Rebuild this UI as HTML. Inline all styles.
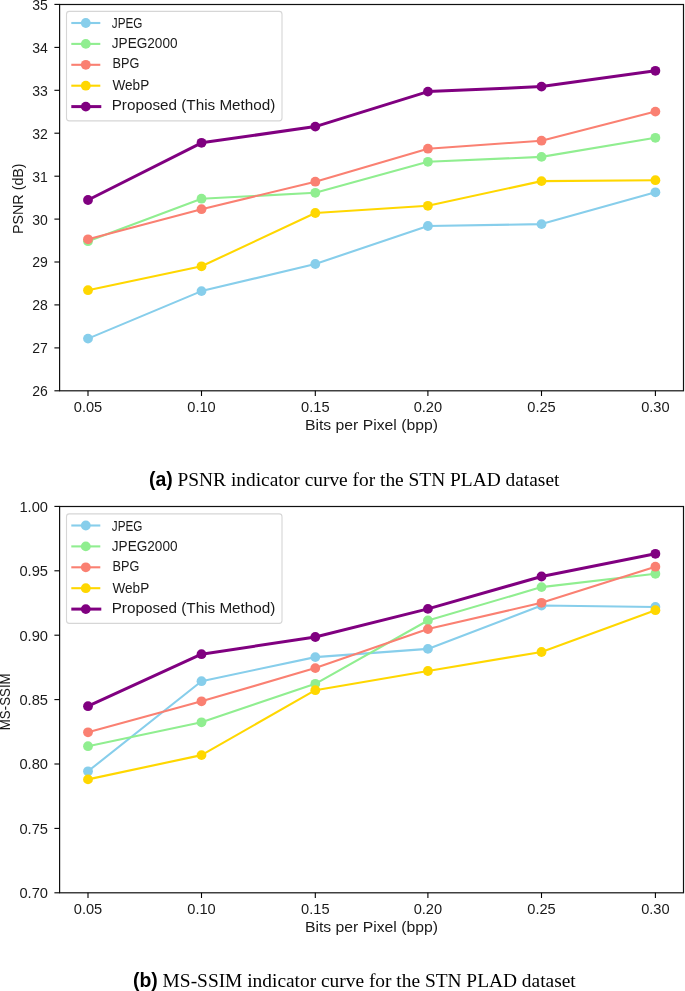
<!DOCTYPE html>
<html><head><meta charset="utf-8"><style>
html,body{margin:0;padding:0;background:#fff;}
body{width:685px;height:991px;overflow:hidden;}
svg{display:block;filter:blur(0.35px);}
.t{font-family:"Liberation Sans",sans-serif;font-size:14.1px;fill:#1a1a1a;}
.cap{font-family:"Liberation Serif",serif;font-size:19.4px;fill:#000;}
.capb{font-family:"Liberation Sans",sans-serif;font-weight:bold;}
</style></head><body>
<svg width="685" height="991" viewBox="0 0 685 991">
<polyline points="88.0,338.6 201.5,291.1 315.3,264.0 427.9,226.0 541.5,224.1 655.4,192.3" fill="none" stroke="#87ceeb" stroke-width="2.1" stroke-linejoin="round" stroke-linecap="round"/>
<circle cx="88.0" cy="338.6" r="4.9" fill="#87ceeb"/>
<circle cx="201.5" cy="291.1" r="4.9" fill="#87ceeb"/>
<circle cx="315.3" cy="264.0" r="4.9" fill="#87ceeb"/>
<circle cx="427.9" cy="226.0" r="4.9" fill="#87ceeb"/>
<circle cx="541.5" cy="224.1" r="4.9" fill="#87ceeb"/>
<circle cx="655.4" cy="192.3" r="4.9" fill="#87ceeb"/>
<polyline points="88.0,241.2 201.5,198.7 315.3,192.8 427.9,161.8 541.5,156.9 655.4,137.8" fill="none" stroke="#90ee90" stroke-width="2.1" stroke-linejoin="round" stroke-linecap="round"/>
<circle cx="88.0" cy="241.2" r="4.9" fill="#90ee90"/>
<circle cx="201.5" cy="198.7" r="4.9" fill="#90ee90"/>
<circle cx="315.3" cy="192.8" r="4.9" fill="#90ee90"/>
<circle cx="427.9" cy="161.8" r="4.9" fill="#90ee90"/>
<circle cx="541.5" cy="156.9" r="4.9" fill="#90ee90"/>
<circle cx="655.4" cy="137.8" r="4.9" fill="#90ee90"/>
<polyline points="88.0,239.3 201.5,209.2 315.3,181.7 427.9,148.7 541.5,140.7 655.4,111.6" fill="none" stroke="#fa8072" stroke-width="2.1" stroke-linejoin="round" stroke-linecap="round"/>
<circle cx="88.0" cy="239.3" r="4.9" fill="#fa8072"/>
<circle cx="201.5" cy="209.2" r="4.9" fill="#fa8072"/>
<circle cx="315.3" cy="181.7" r="4.9" fill="#fa8072"/>
<circle cx="427.9" cy="148.7" r="4.9" fill="#fa8072"/>
<circle cx="541.5" cy="140.7" r="4.9" fill="#fa8072"/>
<circle cx="655.4" cy="111.6" r="4.9" fill="#fa8072"/>
<polyline points="88.0,290.2 201.5,266.3 315.3,213.0 427.9,205.8 541.5,181.1 655.4,180.2" fill="none" stroke="#ffd700" stroke-width="2.1" stroke-linejoin="round" stroke-linecap="round"/>
<circle cx="88.0" cy="290.2" r="4.9" fill="#ffd700"/>
<circle cx="201.5" cy="266.3" r="4.9" fill="#ffd700"/>
<circle cx="315.3" cy="213.0" r="4.9" fill="#ffd700"/>
<circle cx="427.9" cy="205.8" r="4.9" fill="#ffd700"/>
<circle cx="541.5" cy="181.1" r="4.9" fill="#ffd700"/>
<circle cx="655.4" cy="180.2" r="4.9" fill="#ffd700"/>
<polyline points="88.0,200.0 201.5,142.8 315.3,126.6 427.9,91.6 541.5,86.6 655.4,70.8" fill="none" stroke="#800080" stroke-width="3.0" stroke-linejoin="round" stroke-linecap="round"/>
<circle cx="88.0" cy="200.0" r="4.9" fill="#800080"/>
<circle cx="201.5" cy="142.8" r="4.9" fill="#800080"/>
<circle cx="315.3" cy="126.6" r="4.9" fill="#800080"/>
<circle cx="427.9" cy="91.6" r="4.9" fill="#800080"/>
<circle cx="541.5" cy="86.6" r="4.9" fill="#800080"/>
<circle cx="655.4" cy="70.8" r="4.9" fill="#800080"/>
<rect x="66.5" y="11.4" width="215.5" height="109.5" rx="2.8" fill="#fff" fill-opacity="0.8" stroke="#d6d6d6" stroke-width="1.1"/>
<line x1="71.3" y1="23.0" x2="100.3" y2="23.0" stroke="#87ceeb" stroke-width="2.1"/>
<circle cx="85.8" cy="23.0" r="4.9" fill="#87ceeb"/>
<text x="111.8" y="28.1" class="t" textLength="30.7" lengthAdjust="spacingAndGlyphs">JPEG</text>
<line x1="71.3" y1="43.9" x2="100.3" y2="43.9" stroke="#90ee90" stroke-width="2.1"/>
<circle cx="85.8" cy="43.9" r="4.9" fill="#90ee90"/>
<text x="111.8" y="48.0" class="t" textLength="65.7" lengthAdjust="spacingAndGlyphs">JPEG2000</text>
<line x1="71.3" y1="64.8" x2="100.3" y2="64.8" stroke="#fa8072" stroke-width="2.1"/>
<circle cx="85.8" cy="64.8" r="4.9" fill="#fa8072"/>
<text x="112.5" y="68.4" class="t" textLength="26.8" lengthAdjust="spacingAndGlyphs">BPG</text>
<line x1="71.3" y1="85.7" x2="100.3" y2="85.7" stroke="#ffd700" stroke-width="2.1"/>
<circle cx="85.8" cy="85.7" r="4.9" fill="#ffd700"/>
<text x="112.5" y="90.0" class="t" textLength="36.7" lengthAdjust="spacingAndGlyphs">WebP</text>
<line x1="71.3" y1="106.6" x2="101.3" y2="106.6" stroke="#800080" stroke-width="3.0"/>
<circle cx="85.8" cy="106.6" r="4.9" fill="#800080"/>
<text x="111.7" y="110.4" class="t" textLength="163.7" lengthAdjust="spacingAndGlyphs">Proposed (This Method)</text>
<rect x="59.6" y="4.5" width="623.9" height="386.3" fill="none" stroke="#111" stroke-width="1.2"/>
<line x1="88.0" y1="390.8" x2="88.0" y2="396.0" stroke="#000" stroke-width="1.1"/>
<text x="88.0" y="411.8" class="t" text-anchor="middle" textLength="28.5" lengthAdjust="spacingAndGlyphs">0.05</text>
<line x1="201.5" y1="390.8" x2="201.5" y2="396.0" stroke="#000" stroke-width="1.1"/>
<text x="201.5" y="411.8" class="t" text-anchor="middle" textLength="28.5" lengthAdjust="spacingAndGlyphs">0.10</text>
<line x1="315.3" y1="390.8" x2="315.3" y2="396.0" stroke="#000" stroke-width="1.1"/>
<text x="315.3" y="411.8" class="t" text-anchor="middle" textLength="28.5" lengthAdjust="spacingAndGlyphs">0.15</text>
<line x1="427.9" y1="390.8" x2="427.9" y2="396.0" stroke="#000" stroke-width="1.1"/>
<text x="427.9" y="411.8" class="t" text-anchor="middle" textLength="28.5" lengthAdjust="spacingAndGlyphs">0.20</text>
<line x1="541.5" y1="390.8" x2="541.5" y2="396.0" stroke="#000" stroke-width="1.1"/>
<text x="541.5" y="411.8" class="t" text-anchor="middle" textLength="28.5" lengthAdjust="spacingAndGlyphs">0.25</text>
<line x1="655.4" y1="390.8" x2="655.4" y2="396.0" stroke="#000" stroke-width="1.1"/>
<text x="655.4" y="411.8" class="t" text-anchor="middle" textLength="28.5" lengthAdjust="spacingAndGlyphs">0.30</text>
<line x1="54.4" y1="390.8" x2="59.6" y2="390.8" stroke="#000" stroke-width="1.1"/>
<text x="47.8" y="396.2" class="t" text-anchor="end" textLength="15.6" lengthAdjust="spacingAndGlyphs">26</text>
<line x1="54.4" y1="347.9" x2="59.6" y2="347.9" stroke="#000" stroke-width="1.1"/>
<text x="47.8" y="353.3" class="t" text-anchor="end" textLength="15.6" lengthAdjust="spacingAndGlyphs">27</text>
<line x1="54.4" y1="304.9" x2="59.6" y2="304.9" stroke="#000" stroke-width="1.1"/>
<text x="47.8" y="310.3" class="t" text-anchor="end" textLength="15.6" lengthAdjust="spacingAndGlyphs">28</text>
<line x1="54.4" y1="262.0" x2="59.6" y2="262.0" stroke="#000" stroke-width="1.1"/>
<text x="47.8" y="267.4" class="t" text-anchor="end" textLength="15.6" lengthAdjust="spacingAndGlyphs">29</text>
<line x1="54.4" y1="219.1" x2="59.6" y2="219.1" stroke="#000" stroke-width="1.1"/>
<text x="47.8" y="224.5" class="t" text-anchor="end" textLength="15.6" lengthAdjust="spacingAndGlyphs">30</text>
<line x1="54.4" y1="176.2" x2="59.6" y2="176.2" stroke="#000" stroke-width="1.1"/>
<text x="47.8" y="181.6" class="t" text-anchor="end" textLength="15.6" lengthAdjust="spacingAndGlyphs">31</text>
<line x1="54.4" y1="133.2" x2="59.6" y2="133.2" stroke="#000" stroke-width="1.1"/>
<text x="47.8" y="138.6" class="t" text-anchor="end" textLength="15.6" lengthAdjust="spacingAndGlyphs">32</text>
<line x1="54.4" y1="90.3" x2="59.6" y2="90.3" stroke="#000" stroke-width="1.1"/>
<text x="47.8" y="95.7" class="t" text-anchor="end" textLength="15.6" lengthAdjust="spacingAndGlyphs">33</text>
<line x1="54.4" y1="47.4" x2="59.6" y2="47.4" stroke="#000" stroke-width="1.1"/>
<text x="47.8" y="52.8" class="t" text-anchor="end" textLength="15.6" lengthAdjust="spacingAndGlyphs">34</text>
<line x1="54.4" y1="4.4" x2="59.6" y2="4.4" stroke="#000" stroke-width="1.1"/>
<text x="47.8" y="9.8" class="t" text-anchor="end" textLength="15.6" lengthAdjust="spacingAndGlyphs">35</text>
<text x="371.4" y="430.0" class="t" text-anchor="middle" textLength="133" lengthAdjust="spacingAndGlyphs">Bits per Pixel (bpp)</text>
<text transform="translate(23.0,198.7) rotate(-90)" x="0" y="0" class="t" text-anchor="middle" textLength="70.6" lengthAdjust="spacingAndGlyphs">PSNR (dB)</text>
<polyline points="88.0,771.3 201.5,681.2 315.3,657.1 427.9,648.9 541.5,605.5 655.4,607.0" fill="none" stroke="#87ceeb" stroke-width="2.1" stroke-linejoin="round" stroke-linecap="round"/>
<circle cx="88.0" cy="771.3" r="4.9" fill="#87ceeb"/>
<circle cx="201.5" cy="681.2" r="4.9" fill="#87ceeb"/>
<circle cx="315.3" cy="657.1" r="4.9" fill="#87ceeb"/>
<circle cx="427.9" cy="648.9" r="4.9" fill="#87ceeb"/>
<circle cx="541.5" cy="605.5" r="4.9" fill="#87ceeb"/>
<circle cx="655.4" cy="607.0" r="4.9" fill="#87ceeb"/>
<polyline points="88.0,746.2 201.5,722.3 315.3,683.8 427.9,620.5 541.5,587.1 655.4,573.8" fill="none" stroke="#90ee90" stroke-width="2.1" stroke-linejoin="round" stroke-linecap="round"/>
<circle cx="88.0" cy="746.2" r="4.9" fill="#90ee90"/>
<circle cx="201.5" cy="722.3" r="4.9" fill="#90ee90"/>
<circle cx="315.3" cy="683.8" r="4.9" fill="#90ee90"/>
<circle cx="427.9" cy="620.5" r="4.9" fill="#90ee90"/>
<circle cx="541.5" cy="587.1" r="4.9" fill="#90ee90"/>
<circle cx="655.4" cy="573.8" r="4.9" fill="#90ee90"/>
<polyline points="88.0,732.3 201.5,701.3 315.3,668.1 427.9,629.1 541.5,602.8 655.4,566.7" fill="none" stroke="#fa8072" stroke-width="2.1" stroke-linejoin="round" stroke-linecap="round"/>
<circle cx="88.0" cy="732.3" r="4.9" fill="#fa8072"/>
<circle cx="201.5" cy="701.3" r="4.9" fill="#fa8072"/>
<circle cx="315.3" cy="668.1" r="4.9" fill="#fa8072"/>
<circle cx="427.9" cy="629.1" r="4.9" fill="#fa8072"/>
<circle cx="541.5" cy="602.8" r="4.9" fill="#fa8072"/>
<circle cx="655.4" cy="566.7" r="4.9" fill="#fa8072"/>
<polyline points="88.0,779.4 201.5,755.1 315.3,690.2 427.9,671.0 541.5,652.0 655.4,610.2" fill="none" stroke="#ffd700" stroke-width="2.1" stroke-linejoin="round" stroke-linecap="round"/>
<circle cx="88.0" cy="779.4" r="4.9" fill="#ffd700"/>
<circle cx="201.5" cy="755.1" r="4.9" fill="#ffd700"/>
<circle cx="315.3" cy="690.2" r="4.9" fill="#ffd700"/>
<circle cx="427.9" cy="671.0" r="4.9" fill="#ffd700"/>
<circle cx="541.5" cy="652.0" r="4.9" fill="#ffd700"/>
<circle cx="655.4" cy="610.2" r="4.9" fill="#ffd700"/>
<polyline points="88.0,706.2 201.5,654.2 315.3,637.0 427.9,608.9 541.5,576.5 655.4,553.8" fill="none" stroke="#800080" stroke-width="3.0" stroke-linejoin="round" stroke-linecap="round"/>
<circle cx="88.0" cy="706.2" r="4.9" fill="#800080"/>
<circle cx="201.5" cy="654.2" r="4.9" fill="#800080"/>
<circle cx="315.3" cy="637.0" r="4.9" fill="#800080"/>
<circle cx="427.9" cy="608.9" r="4.9" fill="#800080"/>
<circle cx="541.5" cy="576.5" r="4.9" fill="#800080"/>
<circle cx="655.4" cy="553.8" r="4.9" fill="#800080"/>
<rect x="66.5" y="513.9" width="215.5" height="109.5" rx="2.8" fill="#fff" fill-opacity="0.8" stroke="#d6d6d6" stroke-width="1.1"/>
<line x1="71.3" y1="525.5" x2="100.3" y2="525.5" stroke="#87ceeb" stroke-width="2.1"/>
<circle cx="85.8" cy="525.5" r="4.9" fill="#87ceeb"/>
<text x="111.8" y="530.6" class="t" textLength="30.7" lengthAdjust="spacingAndGlyphs">JPEG</text>
<line x1="71.3" y1="546.4" x2="100.3" y2="546.4" stroke="#90ee90" stroke-width="2.1"/>
<circle cx="85.8" cy="546.4" r="4.9" fill="#90ee90"/>
<text x="111.8" y="550.5" class="t" textLength="65.7" lengthAdjust="spacingAndGlyphs">JPEG2000</text>
<line x1="71.3" y1="567.3" x2="100.3" y2="567.3" stroke="#fa8072" stroke-width="2.1"/>
<circle cx="85.8" cy="567.3" r="4.9" fill="#fa8072"/>
<text x="112.5" y="570.9" class="t" textLength="26.8" lengthAdjust="spacingAndGlyphs">BPG</text>
<line x1="71.3" y1="588.2" x2="100.3" y2="588.2" stroke="#ffd700" stroke-width="2.1"/>
<circle cx="85.8" cy="588.2" r="4.9" fill="#ffd700"/>
<text x="112.5" y="592.5" class="t" textLength="36.7" lengthAdjust="spacingAndGlyphs">WebP</text>
<line x1="71.3" y1="609.1" x2="101.3" y2="609.1" stroke="#800080" stroke-width="3.0"/>
<circle cx="85.8" cy="609.1" r="4.9" fill="#800080"/>
<text x="111.7" y="612.9" class="t" textLength="163.7" lengthAdjust="spacingAndGlyphs">Proposed (This Method)</text>
<rect x="59.6" y="506.5" width="623.9" height="386.29999999999995" fill="none" stroke="#111" stroke-width="1.2"/>
<line x1="88.0" y1="892.8" x2="88.0" y2="898.0" stroke="#000" stroke-width="1.1"/>
<text x="88.0" y="913.8" class="t" text-anchor="middle" textLength="28.5" lengthAdjust="spacingAndGlyphs">0.05</text>
<line x1="201.5" y1="892.8" x2="201.5" y2="898.0" stroke="#000" stroke-width="1.1"/>
<text x="201.5" y="913.8" class="t" text-anchor="middle" textLength="28.5" lengthAdjust="spacingAndGlyphs">0.10</text>
<line x1="315.3" y1="892.8" x2="315.3" y2="898.0" stroke="#000" stroke-width="1.1"/>
<text x="315.3" y="913.8" class="t" text-anchor="middle" textLength="28.5" lengthAdjust="spacingAndGlyphs">0.15</text>
<line x1="427.9" y1="892.8" x2="427.9" y2="898.0" stroke="#000" stroke-width="1.1"/>
<text x="427.9" y="913.8" class="t" text-anchor="middle" textLength="28.5" lengthAdjust="spacingAndGlyphs">0.20</text>
<line x1="541.5" y1="892.8" x2="541.5" y2="898.0" stroke="#000" stroke-width="1.1"/>
<text x="541.5" y="913.8" class="t" text-anchor="middle" textLength="28.5" lengthAdjust="spacingAndGlyphs">0.25</text>
<line x1="655.4" y1="892.8" x2="655.4" y2="898.0" stroke="#000" stroke-width="1.1"/>
<text x="655.4" y="913.8" class="t" text-anchor="middle" textLength="28.5" lengthAdjust="spacingAndGlyphs">0.30</text>
<line x1="54.4" y1="892.8" x2="59.6" y2="892.8" stroke="#000" stroke-width="1.1"/>
<text x="48.0" y="898.2" class="t" text-anchor="end" textLength="28.6" lengthAdjust="spacingAndGlyphs">0.70</text>
<line x1="54.4" y1="828.4" x2="59.6" y2="828.4" stroke="#000" stroke-width="1.1"/>
<text x="48.0" y="833.8" class="t" text-anchor="end" textLength="28.6" lengthAdjust="spacingAndGlyphs">0.75</text>
<line x1="54.4" y1="764.0" x2="59.6" y2="764.0" stroke="#000" stroke-width="1.1"/>
<text x="48.0" y="769.4" class="t" text-anchor="end" textLength="28.6" lengthAdjust="spacingAndGlyphs">0.80</text>
<line x1="54.4" y1="699.6" x2="59.6" y2="699.6" stroke="#000" stroke-width="1.1"/>
<text x="48.0" y="705.0" class="t" text-anchor="end" textLength="28.6" lengthAdjust="spacingAndGlyphs">0.85</text>
<line x1="54.4" y1="635.2" x2="59.6" y2="635.2" stroke="#000" stroke-width="1.1"/>
<text x="48.0" y="640.6" class="t" text-anchor="end" textLength="28.6" lengthAdjust="spacingAndGlyphs">0.90</text>
<line x1="54.4" y1="570.8" x2="59.6" y2="570.8" stroke="#000" stroke-width="1.1"/>
<text x="48.0" y="576.2" class="t" text-anchor="end" textLength="28.6" lengthAdjust="spacingAndGlyphs">0.95</text>
<line x1="54.4" y1="506.4" x2="59.6" y2="506.4" stroke="#000" stroke-width="1.1"/>
<text x="48.0" y="511.8" class="t" text-anchor="end" textLength="28.6" lengthAdjust="spacingAndGlyphs">1.00</text>
<text x="371.4" y="932.0" class="t" text-anchor="middle" textLength="133" lengthAdjust="spacingAndGlyphs">Bits per Pixel (bpp)</text>
<text transform="translate(9.7,701.8) rotate(-90)" x="0" y="0" class="t" text-anchor="middle" textLength="56.9" lengthAdjust="spacingAndGlyphs">MS-SSIM</text>
<text x="149" y="486.0" class="cap"><tspan class="capb">(a)</tspan> PSNR indicator curve for the STN PLAD dataset</text>
<text x="133" y="987.0" class="cap"><tspan class="capb">(b)</tspan> MS-SSIM indicator curve for the STN PLAD dataset</text>
</svg>
</body></html>
